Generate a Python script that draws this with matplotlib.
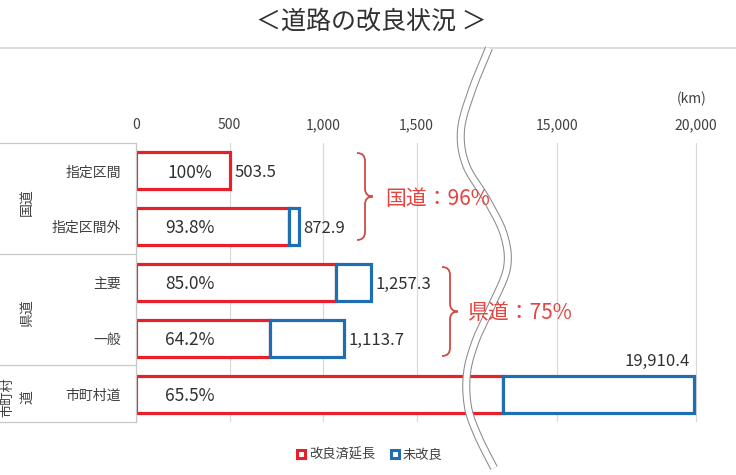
import numpy as np
import matplotlib
matplotlib.use("Agg")
import matplotlib.pyplot as plt
from matplotlib.patches import Patch, PathPatch
from matplotlib.path import Path

plt.rcParams['font.family'] = ['Noto Sans CJK JP', 'DejaVu Sans']

# ---------------- data ----------------
categories = ['指定区間', '指定区間外', '主要', '一般', '市町村道']
total_km = [503.5, 872.9, 1257.3, 1113.7, 19910.4]
improved_rate = [100.0, 93.8, 85.0, 64.2, 65.5]   # %
rate_labels = ['100%', '93.8%', '85.0%', '64.2%', '65.5%']
total_labels = ['503.5', '872.9', '1,257.3', '1,113.7', '19,910.4']
tick_values = [0, 500, 1000, 1500, 15000, 20000]
tick_labels = ['0', '500', '1,000', '1,500', '15,000', '20,000']
groups = ['国道', '県道', '市町村道']
group_summary = ['国道：96%', '県道：75%']
legend_labels = ['改良済延長', '未改良']

total = np.array(total_km)
improved = total * np.array(improved_rate) / 100.0
unimproved = total - improved

RED = '#e8202a'
BLUE = '#1f6db3'
BRACE = '#cf4b47'
BRACE_TXT = '#e4433f'
GRID = '#d9d9d9'
TXT = '#404040'

# ---------------- broken x scale ----------------
S1 = 0.187      # px per km left part
S2 = 0.0278     # px per km right part
B1 = 349 / S1
B2 = 15000 - 71 / S2
xs = np.array([-1e5, 0.0, B1, B2, 1e6])
ps = np.array([-1e5 * S1, 0.0, B1 * S1, B1 * S1 + 1, B1 * S1 + 1 + (1e6 - B2) * S2])


def fwd(x):
    return np.interp(np.asarray(x, dtype=float), xs, ps)


def inv(p):
    return np.interp(np.asarray(p, dtype=float), ps, xs)


W, H = 736, 475
fig = plt.figure(figsize=(W / 100, H / 100), dpi=100)
fig.patch.set_facecolor('white')

ax_l, ax_r, ax_t, ax_b = 136, 716, 143, 422
ax = fig.add_axes([ax_l / W, (H - ax_b) / H, (ax_r - ax_l) / W, (ax_b - ax_t) / H])
ax.set_xscale('function', functions=(fwd, inv))
ax.set_xlim(0, inv(ax_r - ax_l))
ypos = np.arange(len(categories))
ax.set_ylim(len(categories) - 0.5, -0.5)

bh = 0.66
ax.barh(ypos, improved, height=bh, color='white', edgecolor=RED, linewidth=2.3, zorder=3)
mask = unimproved > 0
ax.barh(ypos[mask], unimproved[mask], left=improved[mask], height=bh, color='white',
        edgecolor=BLUE, linewidth=2.3, zorder=4)

for i in range(len(categories)):
    ax.text(290, ypos[i] + 0.03, rate_labels[i], ha='center', va='center',
            fontsize=12.5, color='#303030', zorder=5)
    if i < len(categories) - 1:
        ax.annotate(total_labels[i], (total[i], ypos[i] + 0.03), xytext=(3, 0),
                    textcoords='offset points', ha='left', va='center',
                    fontsize=12, color='#303030', zorder=5)
    else:
        ax.annotate(total_labels[i], (total[i], ypos[i] - bh / 2), xytext=(-3, 4),
                    textcoords='offset points', ha='right', va='bottom',
                    fontsize=12, color='#303030', zorder=5)

ax.set_xticks(tick_values, tick_labels)
ax.xaxis.tick_top()
ax.tick_params(axis='x', length=0, pad=8, labelsize=10, labelcolor=TXT)
ax.set_yticks(ypos, categories)
ax.tick_params(axis='y', length=0, pad=11, labelsize=10, labelcolor=TXT)
ax.grid(axis='x', color=GRID, linewidth=0.9)
ax.set_axisbelow(True)
for s in ax.spines.values():
    s.set_visible(False)

ax.legend(handles=[Patch(facecolor='white', edgecolor=RED, linewidth=2.2),
                   Patch(facecolor='white', edgecolor=BLUE, linewidth=2.2)],
          labels=legend_labels, loc='center', bbox_to_anchor=(370 / W, 1 - 455 / H),
          bbox_transform=fig.transFigure, ncol=2, frameon=False,
          handlelength=0.6, handleheight=0.6, handletextpad=0.3, columnspacing=1.2,
          fontsize=9.5, labelcolor=TXT)

# ---------------- overlay (pixel coordinates) ----------------
ov = fig.add_axes([0, 0, 1, 1], zorder=10)
ov.set_xlim(0, W)
ov.set_ylim(H, 0)
ov.axis('off')

ov.text(371, 22, '＜道路の改良状況 ＞', ha='center', va='center', fontsize=18, color='#303030')
ov.plot([0, W], [48, 48], color='#d6d6d6', lw=1.2)
ov.text(692, 99, '(km)', ha='center', va='center', fontsize=10, color=TXT)

# table lines on the left
for yy in [143, 254, 365, 422]:
    ov.plot([0, ax_l], [yy, yy], color='#c8c8c8', lw=0.9)
ov.plot([ax_l, ax_l], [143, 422], color='#c8c8c8', lw=0.9)

ov.text(27, 202, groups[0], rotation=90, ha='center', va='center', fontsize=10, color=TXT)
ov.text(27, 313, groups[1], rotation=90, ha='center', va='center', fontsize=10, color=TXT)
ov.text(8, 397, groups[2][:3], rotation=90, ha='center', va='center', fontsize=9.5, color=TXT)
ov.text(27, 397, groups[2][3:], rotation=90, ha='center', va='center', fontsize=10, color=TXT)


def brace(x0, y0, y1, w):
    ym = (y0 + y1) / 2
    xm = x0 + w / 2
    verts = [(x0, y0), (xm, y0), (xm, y0 + w / 2),
             (xm, ym - w / 2), (xm, ym), (x0 + w, ym),
             (xm, ym), (xm, ym + w / 2),
             (xm, y1 - w / 2), (xm, y1), (x0, y1)]
    codes = [Path.MOVETO, Path.CURVE3, Path.CURVE3,
             Path.LINETO, Path.CURVE3, Path.CURVE3,
             Path.CURVE3, Path.CURVE3,
             Path.LINETO, Path.CURVE3, Path.CURVE3]
    ov.add_patch(PathPatch(Path(verts, codes), facecolor='none', edgecolor=BRACE, lw=1.3))


brace(357, 153, 240, 16)
ov.text(385, 199, group_summary[0], ha='left', va='center', fontsize=15, color=BRACE_TXT)
brace(442, 267, 356, 16)
ov.text(468, 313, group_summary[1], ha='left', va='center', fontsize=15, color=BRACE_TXT)

# wavy break line (double line)
pts = np.array([(489, 48), (472, 90), (461, 130), (466, 165), (487, 200), (504, 235),
                (507, 268), (492, 305), (476, 340), (467, 373), (468, 407), (478, 436),
                (494, 468)], dtype=float)


def catmull(p, n=20):
    p = np.vstack([p[0] * 2 - p[1], p, p[-1] * 2 - p[-2]])
    out = []
    for i in range(1, len(p) - 2):
        p0, p1, p2, p3 = p[i - 1], p[i], p[i + 1], p[i + 2]
        for t in np.linspace(0, 1, n, endpoint=False):
            t2, t3 = t * t, t * t * t
            out.append(0.5 * ((2 * p1) + (-p0 + p2) * t + (2 * p0 - 5 * p1 + 4 * p2 - p3) * t2
                              + (-p0 + 3 * p1 - 3 * p2 + p3) * t3))
    out.append(p[-2])
    return np.array(out)


cv = catmull(pts)
ov.plot(cv[:, 0], cv[:, 1], color='#8a8a8a', lw=5.8, solid_capstyle='butt')
ov.plot(cv[:, 0], cv[:, 1], color='white', lw=4.3, solid_capstyle='butt')

fig.savefig('out.png', dpi=100, facecolor='white')
